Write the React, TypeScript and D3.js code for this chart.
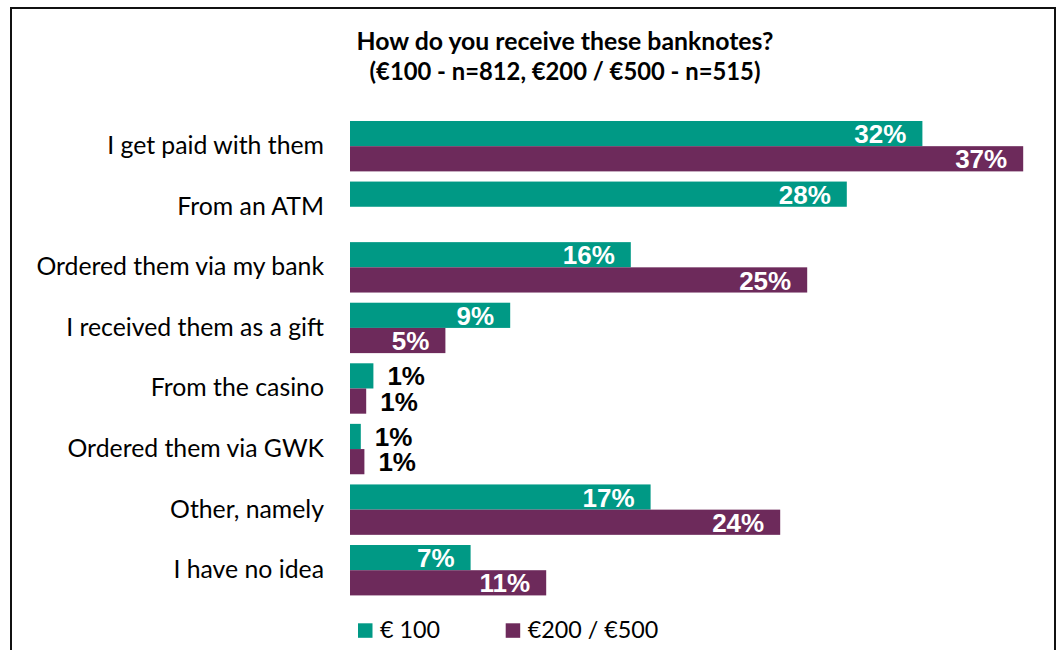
import React from "react";
import * as d3 from "d3";

const categories = [
  "I get paid with them",
  "From an ATM",
  "Ordered them via my bank",
  "I received them as a gift",
  "From the casino",
  "Ordered them via GWK",
  "Other, namely",
  "I have no idea",
];
const euro100: (number | null)[] = [31.8, 27.6, 15.6, 8.9, 1.3, 0.6, 16.7, 6.7];
const euro200500: (number | null)[] = [37.4, null, 25.4, 5.3, 0.9, 0.8, 23.9, 10.9];
const labels100 = ["32%", "28%", "16%", "9%", "1%", "1%", "17%", "7%"];
const labels200500 = ["37%", "", "25%", "5%", "1%", "1%", "24%", "11%"];
const seriesNames = ["€ 100", "€200 / €500"];
const titleLines = [
  "How do you receive these banknotes?",
  "(€100 - n=812, €200 / €500 - n=515)",
];

const W = 1057;
const H = 650;
const TEAL = "#009985";
const PURPLE = "#6D2A5B";
const LABEL_FONT = "Lato, 'Open Sans', sans-serif";
const NUM_FONT = "'Liberation Sans', Arial, sans-serif";

export default function App() {
  const x = d3.scaleLinear().domain([0, 40]).range([350, 1070]);
  const y = d3
    .scaleBand<string>()
    .domain(categories)
    .range([115.9, 600.5])
    .paddingInner(0.168)
    .paddingOuter(0.084);
  const sub = d3
    .scaleBand<string>()
    .domain(["a", "b"])
    .range([0, y.bandwidth()])
    .padding(0);

  const series = [
    { key: "a", values: euro100, labels: labels100, color: TEAL },
    { key: "b", values: euro200500, labels: labels200500, color: PURPLE },
  ];

  return (
    <div style={{ position: "absolute", left: 0, top: 0 }}>
      <svg width={W} height={H} style={{ display: "block", background: "#fff" }}>
        <rect x={0} y={0} width={W} height={H} fill="#fff" />
        <path d={`M11,${H + 5} V8 H1055 V${H + 5}`} fill="none" stroke="#111" strokeWidth={2} />
        {titleLines.map((t, i) => (
          <text
            key={i}
            x={565}
            y={50 + i * 30}
            textAnchor="middle"
            fontFamily={LABEL_FONT}
            fontWeight="bold"
            fontSize={i === 0 ? 24.8 : 23.8}
            fill="#000"
          >
            {t}
          </text>
        ))}
        {categories.map((c) => (
          <text
            key={c}
            x={324}
            y={(y(c) as number) + y.bandwidth() / 2 + 8}
            textAnchor="end"
            fontFamily={LABEL_FONT}
            fontSize={24.8}
            fill="#000"
          >
            {c}
          </text>
        ))}
        {series.map((s) =>
          categories.map((c, i) => {
            const v = s.values[i];
            if (v == null) return null;
            const by = (y(c) as number) + (sub(s.key) as number);
            const bh = sub.bandwidth();
            const xe = x(v);
            const inside = v >= 3;
            return (
              <g key={s.key + c}>
                <rect x={x(0)} y={by} width={xe - x(0)} height={bh} fill={s.color} />
                <text
                  x={inside ? xe - 16 : xe + 14}
                  y={by + bh - 3}
                  textAnchor={inside ? "end" : "start"}
                  fontFamily={NUM_FONT}
                  fontWeight="bold"
                  fontSize={26}
                  fill={inside ? "#fff" : "#000"}
                >
                  {s.labels[i]}
                </text>
              </g>
            );
          })
        )}
        {seriesNames.map((n, i) => {
          const lx = i === 0 ? 358 : 505.7;
          return (
            <g key={n}>
              <rect x={lx} y={623.3} width={14.5} height={14.5} fill={i === 0 ? TEAL : PURPLE} />
              <text x={lx + 22} y={638} fontFamily={LABEL_FONT} fontSize={23.3} fill="#000">
                {n}
              </text>
            </g>
          );
        })}
      </svg>
    </div>
  );
}
